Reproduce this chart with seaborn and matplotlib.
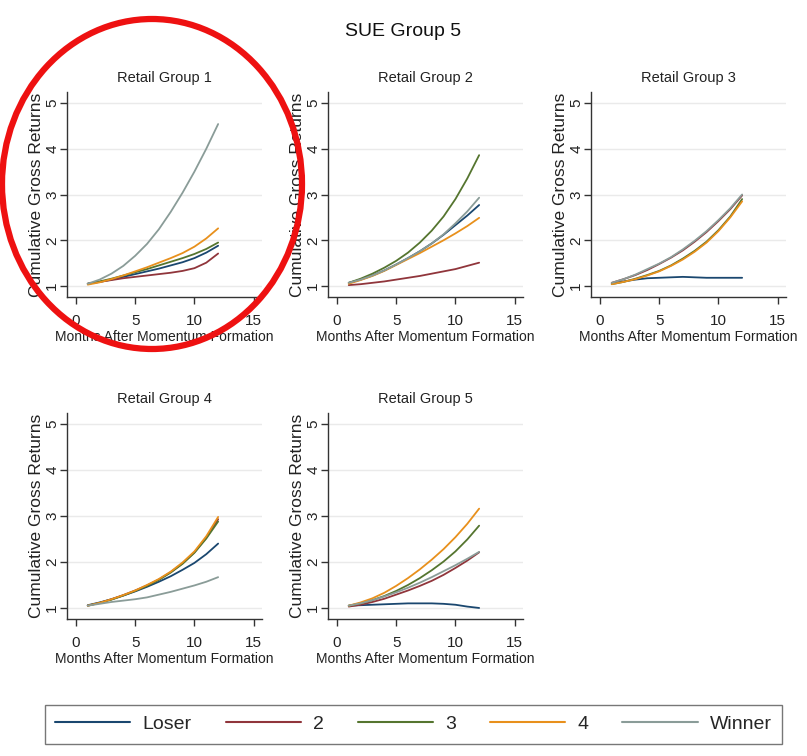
import numpy as np
import pandas as pd
import matplotlib
matplotlib.use("Agg")
import matplotlib.pyplot as plt
from matplotlib.patches import Ellipse
from matplotlib.lines import Line2D
import seaborn as sns

sns.set_theme(style="white")
plt.rcParams["font.family"] = ["Liberation Sans", "DejaVu Sans"]

months = list(range(1, 13))
portfolios = ["Loser", "2", "3", "4", "Winner"]
colors = ["#1a476f", "#90353b", "#55752f", "#e8901c", "#8a9c98"]

# Cumulative gross returns by momentum portfolio, one set per retail group
rg1_loser = [1.05, 1.09, 1.14, 1.20, 1.26, 1.32, 1.38, 1.45, 1.52, 1.61, 1.73, 1.88]
rg1_p2 = [1.05, 1.09, 1.13, 1.17, 1.20, 1.23, 1.26, 1.29, 1.33, 1.39, 1.51, 1.71]
rg1_p3 = [1.05, 1.10, 1.16, 1.23, 1.30, 1.37, 1.45, 1.53, 1.61, 1.70, 1.81, 1.95]
rg1_p4 = [1.03, 1.08, 1.15, 1.23, 1.32, 1.41, 1.51, 1.61, 1.72, 1.86, 2.04, 2.26]
rg1_winner = [1.05, 1.14, 1.27, 1.44, 1.66, 1.92, 2.24, 2.62, 3.04, 3.50, 4.00, 4.54]

rg2_loser = [1.07, 1.14, 1.23, 1.34, 1.47, 1.61, 1.76, 1.93, 2.12, 2.33, 2.54, 2.77]
rg2_p2 = [1.02, 1.04, 1.07, 1.10, 1.14, 1.18, 1.22, 1.27, 1.32, 1.37, 1.44, 1.51]
rg2_p3 = [1.07, 1.16, 1.27, 1.40, 1.55, 1.73, 1.95, 2.21, 2.52, 2.90, 3.35, 3.86]
rg2_p4 = [1.05, 1.13, 1.22, 1.33, 1.46, 1.59, 1.72, 1.86, 2.00, 2.15, 2.31, 2.49]
rg2_winner = [1.07, 1.14, 1.23, 1.34, 1.47, 1.61, 1.76, 1.93, 2.13, 2.37, 2.63, 2.93]

rg3_loser = [1.06, 1.10, 1.14, 1.17, 1.18, 1.19, 1.20, 1.19, 1.18, 1.18, 1.18, 1.18]
rg3_p2 = [1.07, 1.15, 1.24, 1.35, 1.48, 1.62, 1.78, 1.97, 2.18, 2.42, 2.68, 2.98]
rg3_p3 = [1.04, 1.09, 1.16, 1.24, 1.33, 1.45, 1.60, 1.77, 1.97, 2.22, 2.52, 2.90]
rg3_p4 = [1.04, 1.09, 1.15, 1.23, 1.32, 1.44, 1.58, 1.75, 1.95, 2.20, 2.50, 2.85]
rg3_winner = [1.07, 1.15, 1.25, 1.37, 1.49, 1.63, 1.80, 1.99, 2.20, 2.44, 2.70, 3.00]

rg4_loser = [1.06, 1.12, 1.19, 1.27, 1.36, 1.46, 1.57, 1.69, 1.83, 1.98, 2.17, 2.40]
rg4_p2 = [1.05, 1.11, 1.19, 1.28, 1.38, 1.49, 1.62, 1.78, 1.97, 2.21, 2.53, 2.93]
rg4_p3 = [1.05, 1.11, 1.18, 1.27, 1.37, 1.48, 1.61, 1.77, 1.96, 2.20, 2.51, 2.88]
rg4_p4 = [1.05, 1.11, 1.19, 1.28, 1.38, 1.50, 1.63, 1.79, 1.99, 2.23, 2.56, 2.98]
rg4_winner = [1.05, 1.09, 1.13, 1.16, 1.19, 1.23, 1.29, 1.35, 1.42, 1.49, 1.57, 1.67]

rg5_loser = [1.05, 1.06, 1.07, 1.08, 1.09, 1.10, 1.10, 1.10, 1.09, 1.07, 1.03, 1.00]
rg5_p2 = [1.03, 1.07, 1.13, 1.20, 1.29, 1.38, 1.48, 1.59, 1.72, 1.87, 2.03, 2.21]
rg5_p3 = [1.05, 1.10, 1.17, 1.26, 1.37, 1.50, 1.65, 1.82, 2.01, 2.23, 2.49, 2.79]
rg5_p4 = [1.05, 1.12, 1.21, 1.33, 1.48, 1.65, 1.84, 2.05, 2.28, 2.54, 2.83, 3.16]
rg5_winner = [1.05, 1.10, 1.17, 1.25, 1.34, 1.44, 1.55, 1.67, 1.80, 1.93, 2.07, 2.22]

groups = {
    "Retail Group 1": [rg1_loser, rg1_p2, rg1_p3, rg1_p4, rg1_winner],
    "Retail Group 2": [rg2_loser, rg2_p2, rg2_p3, rg2_p4, rg2_winner],
    "Retail Group 3": [rg3_loser, rg3_p2, rg3_p3, rg3_p4, rg3_winner],
    "Retail Group 4": [rg4_loser, rg4_p2, rg4_p3, rg4_p4, rg4_winner],
    "Retail Group 5": [rg5_loser, rg5_p2, rg5_p3, rg5_p4, rg5_winner],
}

rows = []
for group, series in groups.items():
    for name, vals in zip(portfolios, series):
        for m, v in zip(months, vals):
            rows.append({"group": group, "portfolio": name, "month": m, "ret": v})
df = pd.DataFrame(rows)

W, H = 807, 756
fig = plt.figure(figsize=(W / 100, H / 100), dpi=100)
fig.patch.set_facecolor("white")

def px_axes(left, top, right, bottom):
    return fig.add_axes([left / W, 1 - bottom / H, (right - left) / W, (bottom - top) / H])

boxes = [
    (67, 92, 262, 297),
    (328, 92, 523, 297),
    (591, 92, 786, 297),
    (67, 413, 262, 619),
    (328, 413, 523, 619),
]

palette = dict(zip(portfolios, colors))
for (group, _), box in zip(groups.items(), boxes):
    ax = px_axes(*box)
    sub = df[df["group"] == group]
    sns.lineplot(data=sub, x="month", y="ret", hue="portfolio", hue_order=portfolios,
                 palette=palette, linewidth=1.3, legend=False, ax=ax)
    ax.set_xlim(-0.75, 15.7)
    ax.set_ylim(0.76, 5.24)
    ax.set_xticks([0, 5, 10, 15])
    ax.set_yticks([1, 2, 3, 4, 5])
    ax.yaxis.grid(True, color="#eaeaea", linewidth=1.0)
    ax.set_axisbelow(True)
    for s in ["top", "right"]:
        ax.spines[s].set_visible(False)
    for s in ["left", "bottom"]:
        ax.spines[s].set_color("#333333")
        ax.spines[s].set_linewidth(1.0)
    ax.tick_params(axis="both", direction="out", length=5, width=1.0, color="#333333",
                   labelsize=11, labelcolor="#222222")
    ax.tick_params(axis="x", pad=7)
    ax.tick_params(axis="y", pad=0.5)
    ax.tick_params(axis="both", which="both", bottom=True, left=True)
    for lab in ax.get_yticklabels():
        lab.set_rotation(90)
        lab.set_va("center")
    ax.set_title(group, fontsize=10.5, color="#222222", pad=7)
    ax.set_xlabel("Months After Momentum Formation", fontsize=10, color="#222222", labelpad=1.5)
    ax.set_ylabel("Cumulative Gross Returns", fontsize=12.5, color="#222222", labelpad=1)

fig.text(403 / W, 1 - 31 / H, "SUE Group 5", ha="center", va="center", fontsize=14, color="#111111")

# Legend across the bottom
handles = [Line2D([0], [0], color=c, linewidth=1.5) for c in colors]
leg = fig.legend(handles, portfolios, loc="center", bbox_to_anchor=(413.5 / W, 1 - 724 / H),
                 ncol=5, frameon=True, fontsize=14, handlelength=3.87, columnspacing=1.75,
                 handletextpad=0.62, borderpad=0.55, borderaxespad=0, fancybox=False)
leg.get_frame().set_edgecolor("#555555")
leg.get_frame().set_linewidth(1.0)

# Red ring highlighting the first panel
ring = Ellipse((152 / W, 1 - 184 / H), 300 / W, 330 / H, transform=fig.transFigure,
               fill=False, edgecolor="#ee1111", linewidth=4.5, zorder=10)
fig.add_artist(ring)

fig.savefig("out.png", dpi=100, facecolor="white")
